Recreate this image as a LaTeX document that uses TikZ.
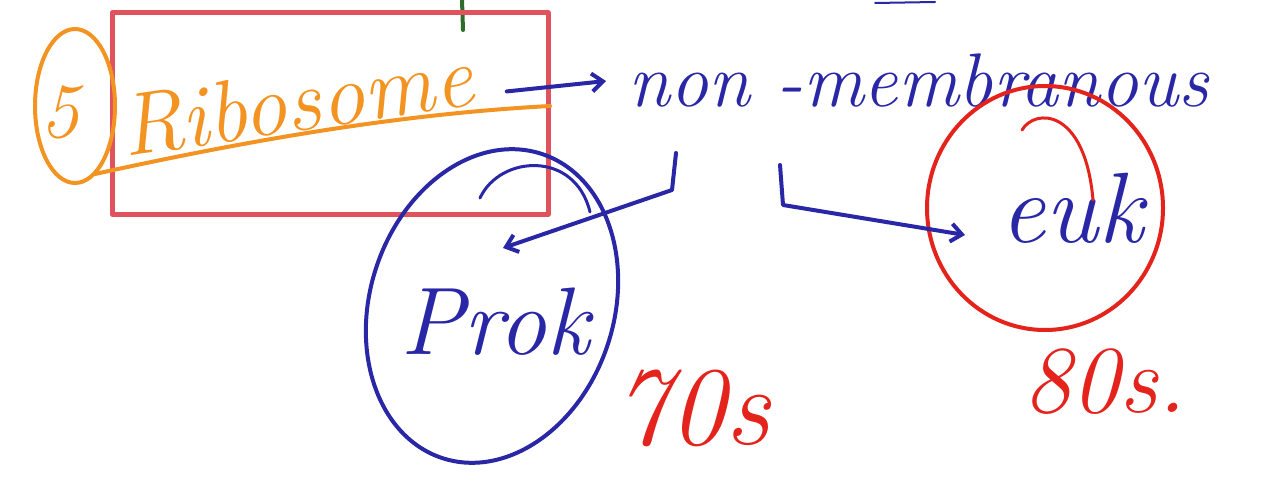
\documentclass[tikz,border=0pt]{standalone}
\usepackage{fontspec}
\usepackage{tikz}
\usetikzlibrary{arrows.meta,positioning}
\definecolor{inkorange}{HTML}{F39422}
\definecolor{inkblue}{HTML}{2A27A6}
\definecolor{inkred}{HTML}{E4231C}
\definecolor{boxred}{HTML}{E0525C}
\definecolor{inkgreen}{HTML}{2F6B2A}

\begin{document}
\begin{tikzpicture}[x=1pt,y=-1pt,line cap=round,line join=round,
  pen/.style={line width=4pt},
  word/.style={inner sep=0pt,font=\fontsize{#1}{#1}\selectfont\itshape},
  tip/.style={-{Straight Barb[length=11pt,width=18pt,line width=4pt]}}]
\useasboundingbox (0,0) rectangle (1281,481);
% stray strokes at the top edge
\draw[pen,inkgreen] (462,0) -- (463,30);
\draw[line width=2pt,inkblue] (875,3) -- (935,2);
% highlighted heading
\draw[line width=5pt,boxred] (112,13) rectangle (548,214);
\node[word=78,text=inkorange,anchor=base] (num) at (60,138) {5};
\draw[pen,inkorange] (75,106) ellipse [x radius=40, y radius=77];
\node[word=88,text=inkorange,anchor=base west,rotate=8.5] (ribo) at (125,157) {Ribosome};
\draw[pen,inkorange] (95,174) .. controls (250,140) and (400,114) .. (550,106);
\node[word=76,text=inkblue,anchor=base west] (non) at (628,107) {non -membranous};
\draw[pen,inkblue,tip] ([shift={(30pt,13pt)}]ribo.base east) -- ([xshift=-22pt]non.west);
% the two kinds
\node[word=96,text=inkblue] (prok) at (495,322) {Prok};
\draw[pen,inkblue,rotate around={-18:(492,306)}] (492,306) ellipse [x radius=122, y radius=160];
\draw[line width=3pt,inkblue] (480,198) .. controls (500,155) and (575,150) .. (590,212);
\node[word=100,text=inkblue] (euk) at (1072,208) {euk};
\draw[pen,inkred] (1045,208) ellipse [x radius=118, y radius=122];
\draw[line width=3pt,inkred] (1022,130) .. controls (1035,108) and (1085,108) .. (1093,200);
\coordinate (prokin) at (503,248);
\coordinate (eukin) at (965,235);
\draw[pen,inkblue,tip] (676,153) -- (672,190) -- (prokin);
\draw[pen,inkblue,tip] (780,165) -- (783,205) -- (eukin);
% sizes
\node[word=112,text=inkred] (seventy) at (692,408) {70s};
\node[word=96,text=inkred] (eighty) at (1105,382) {80s.};
\end{tikzpicture}
\end{document}
